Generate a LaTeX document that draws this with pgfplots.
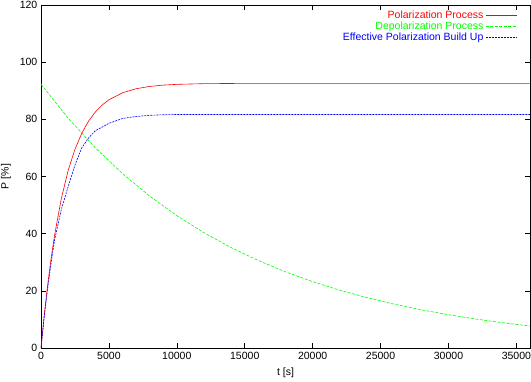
\documentclass[border=0pt]{standalone}
\usepackage{pgfplots}
\pgfplotsset{compat=1.18}
\usepackage{fontspec}
\setmainfont{Liberation Sans}
\begin{document}
\fontsize{10.5}{12}\selectfont
\begin{tikzpicture}
\begin{axis}[
  name=ax,
  scale only axis,
  width=489pt, height=343pt,
  xmin=0, xmax=36000, ymin=0, ymax=120,
  xtick={0,5000,10000,15000,20000,25000,30000,35000},
  ytick={0,20,40,60,80,100,120},
  scaled x ticks=false,
  /pgf/number format/.cd, 1000 sep={}, assume math mode=true,
  /pgfplots/.cd,
  tick align=inside,
  major tick length=5pt,
  tick style={black, line width=0.5pt},
  axis line style={line width=0.5pt},
  xlabel={t [s]}, ylabel={P [\%]},
  every axis x label/.style={at={(axis description cs:0.5,-0.073)}, anchor=center},
  every axis y label/.style={at={(axis description cs:-0.0716,0.5)}, rotate=90, anchor=center},
  tick label style={font=\fontsize{10.5}{12}\selectfont},
  legend style={at={(0.980,0.995)}, anchor=north east, draw=none, fill=none,
    font=\fontsize{10.5}{12}\selectfont, row sep=-2.2pt},
  legend cell align=right,
  legend plot pos=right,
  legend image code/.code={\draw[#1] (0pt,0pt) -- (31pt,0pt);},
]
\addplot[red, line width=0.6pt] coordinates {
(0,0) (250,12.01) (500,22.46) (750,31.56) (1000,39.46) (1500,52.36) (2000,62.12)
(2500,69.51) (3000,75.11) (3500,79.35) (4000,82.56) (4500,85.00) (5000,86.84)
(6000,89.29) (7000,90.70) (8000,91.51) (9000,91.98) (10000,92.24) (12000,92.48)
(15000,92.58) (20000,92.6) (36000,92.6)};
\addlegendentry{\textcolor{red}{Polarization Process}}
\addplot[green, line width=0.6pt, dash pattern=on 3pt off 1.5pt] coordinates {
(0,92.3) (2000,80.40) (4000,70.04) (6000,61.01) (8000,53.15) (10000,46.29)
(12000,40.33) (14000,35.12) (16000,30.60) (18000,26.65) (20000,23.21) (22000,20.22)
(24000,17.61) (26000,15.34) (28000,13.36) (30000,11.64) (32000,10.14) (34000,8.83)
(36000,7.69)};
\addlegendentry{\textcolor{green}{Depolarization Process}}
\addplot[blue, line width=0.6pt, dash pattern=on 2pt off 1pt] coordinates {
(0,0) (250,11.5) (500,21.2) (750,30.0) (1000,37.8) (1500,48.5) (2000,56.5)
(2500,64.0) (3000,70.0) (3500,73.5) (4000,76.0) (5000,78.6) (6000,80.3)
(7000,81.0) (8000,81.4) (9000,81.6) (10000,81.7) (36000,81.7)};
\addlegendentry{\textcolor{blue}{Effective Polarization Build Up}}
\end{axis}
\pgfresetboundingbox
\path (ax.south west) ++(-41pt,-33pt) rectangle ++(531pt,381pt);
\end{tikzpicture}
\end{document}
